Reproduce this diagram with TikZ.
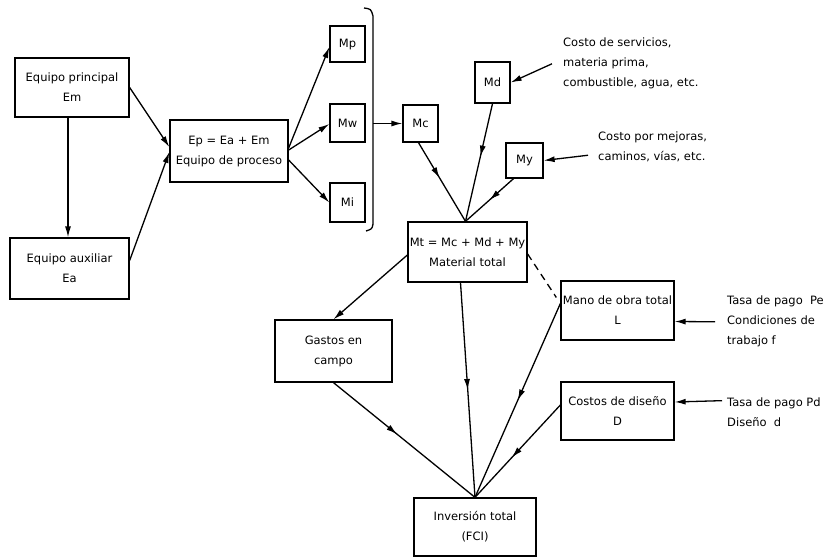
\documentclass[tikz,border=0pt]{standalone}
\usepackage{fontspec}
\setmainfont{DejaVu Sans}
\usetikzlibrary{arrows.meta,calc,decorations.markings}
\begin{document}
\begin{tikzpicture}[x=1pt,y=-1pt,
  every node/.style={font=\fontsize{11.5}{20}\selectfont},
  box/.style={draw, line width=1.3pt, inner sep=0pt, align=center},
  note/.style={inner sep=0pt, align=left, anchor=north west},
  link/.style={line width=1.3pt},
  arr/.style={link, -{Latex[length=11pt,width=6pt]}},
  midarrow/.style={link, postaction={decorate},
    decoration={markings, mark=at position #1 with {\arrow{Latex[length=11pt,width=6pt]}}}}]
\useasboundingbox (0,0) rectangle (827,558);

% equipment boxes
\node[box, minimum width=114, minimum height=59] (ep) at (72,87.5) {Equipo principal\\Em};
\node[box, minimum width=119, minimum height=61] (ea) at (69.5,268.5) {Equipo auxiliar\\Ea};
\node[box, minimum width=118, minimum height=62] (proc) at (229,151) {Ep = Ea + Em\\Equipo de proceso};

% material components
\node[box, minimum width=35, minimum height=36] (mp) at (347.5,44) {Mp};
\node[box, minimum width=35, minimum height=38] (mw) at (347.5,123) {Mw};
\node[box, minimum width=35, minimum height=39] (mi) at (347.5,202.5) {Mi};
\node[box, minimum width=35, minimum height=37] (mc) at (420.5,123.5) {Mc};
\node[box, minimum width=35, minimum height=41] (md) at (492.5,82.5) {Md};
\node[box, minimum width=37, minimum height=35] (my) at (524.5,160.5) {My};
\node[box, minimum width=119, minimum height=60] (mt) at (467.5,252) {Mt = Mc + Md + My\\Material total};

% cost blocks
\node[box, minimum width=117, minimum height=62] (gastos) at (333.5,351) {Gastos en\\campo};
\node[box, minimum width=113, minimum height=59] (mano) at (617.5,310.5) {Mano de obra total\\L};
\node[box, minimum width=113, minimum height=58] (costos) at (617.5,411) {Costos de diseño\\D};
\node[box, minimum width=122, minimum height=58] (inv) at (475,527) {Inversión total\\(FCI)};

% side notes
\node[note] (srv) at (563,38) {Costo de servicios,\\materia prima,\\combustible, agua, etc.};
\node[note] (mej) at (598,132) {Costo por mejoras,\\caminos, vías, etc.};
\node[note] (pe) at (727,296) {Tasa de pago\ \ Pe\\Condiciones de\\trabajo f};
\node[note] (pd) at (727,398) {Tasa de pago Pd\\Diseño\ \ d};

% equipment flow
\coordinate (epd) at ($(ep.south)+(-4,0)$);
\draw[arr] (epd) -- (epd |- ea.north);
\draw[arr] (ep.east) -- ($(proc.west)+(0,-4)$);
\draw[arr] ($(ea.east)+(0,-8)$) -- ($(proc.west)+(0,1)$);
\draw[arr] ($(proc.east)+(0,-3)$) -- ($(mp.west)+(0,3)$);
\draw[arr] ($(proc.east)+(0,-1)$) -- ($(mw.west)+(0,1)$);
\draw[arr] ($(proc.east)+(0,9)$) -- (mi.west);

% brace grouping Mp, Mw, Mi
\draw[link] (364,8) .. controls (371,9) .. (373,16) -- (373,224) .. controls (372,229) .. (366,231);
\coordinate (brk) at (373,123.5);
\draw[arr] (brk) -- (mc.west);

% material total
\coordinate (mtin) at ($(mt.north)+(-2,0)$);
\draw[midarrow=0.45] ($(mc.south)+(-2,0)$) -- (mtin);
\draw[midarrow=0.45] (md.south) -- (mtin);
\draw[midarrow=0.5] ($(my.south)+(-11,0)$) -- (mtin);
\draw[arr] ($(srv.west)+(-11,0)$) -- (md.east);
\draw[arr] ($(mej.west)+(-10,8)$) -- (my.east);

% towards total investment
\draw[arr] ($(mt.west)+(0,3)$) -- (gastos.north);
\draw[link, dash pattern=on 7pt off 5pt] ($(mt.east)+(0,2)$) -- ($(mano.west)+(-4,-13)$);
\draw[midarrow=0.5] ($(mt.south)+(-7,0)$) -- (inv.north);
\draw[midarrow=0.45] (gastos.south) -- (inv.north);
\draw[midarrow=0.5] ($(mano.west)+(0,-7)$) -- (inv.north);
\draw[midarrow=0.57] ($(costos.west)+(0,-6)$) -- (inv.north);
\draw[arr] ($(pe.west)+(-12,0)$) -- ($(mano.east)+(0,11)$);
\draw[arr] ($(pd.west)+(-5,-12)$) -- ($(costos.east)+(0,-9)$);
\end{tikzpicture}
\end{document}
